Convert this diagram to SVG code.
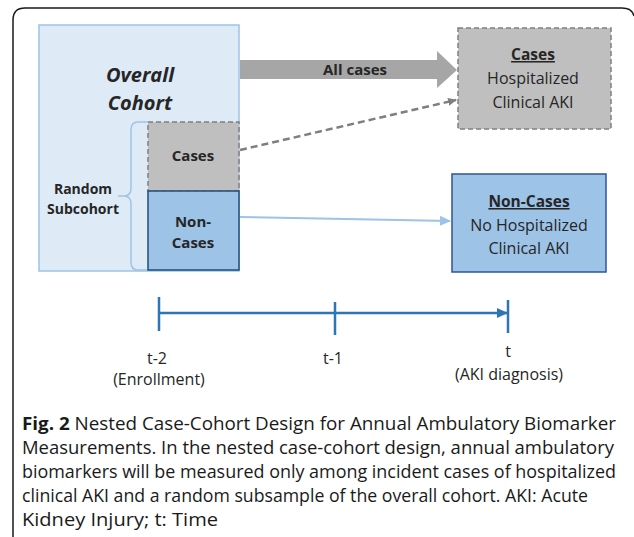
<svg xmlns="http://www.w3.org/2000/svg" width="634" height="537" viewBox="0 0 634 537">
<defs>
<style>
.t{font-family:"Open Sans","Noto Sans",sans-serif;fill:#262626;text-anchor:middle}
.b{font-weight:bold}
.cap{font-family:"Open Sans","Noto Sans",sans-serif;font-size:17.5px;fill:#1a1a1a;font-weight:400}
</style>
<marker id="ag" markerWidth="10" markerHeight="10" refX="8" refY="5" orient="auto" markerUnits="userSpaceOnUse"><path d="M0,1 L9,5 L0,9 Z" fill="#7f7f7f"/></marker>
<marker id="ab" markerWidth="12" markerHeight="12" refX="10" refY="6" orient="auto" markerUnits="userSpaceOnUse"><path d="M0,1 L11,6 L0,11 Z" fill="#9dc3e6"/></marker>
<marker id="at" markerWidth="12" markerHeight="12" refX="10" refY="6" orient="auto" markerUnits="userSpaceOnUse"><path d="M0,1 L11,6 L0,11 Z" fill="#2e75b6"/></marker>
</defs>
<rect width="634" height="537" fill="#ffffff"/>
<path d="M13,537 L13,20 Q13,8 25,8 L622,8 Q632,8 634,16" fill="none" stroke="#1a1a1a" stroke-width="1.5"/>

<g id="overall-cohort">
<rect x="39" y="25" width="200" height="246" fill="#deebf7" stroke="#9dc3e6" stroke-width="1.5"/>
<text class="t b" x="140" y="82" font-size="20" font-style="italic">Overall</text>
<text class="t b" x="140" y="110" font-size="20" font-style="italic">Cohort</text>
</g>

<g id="random-subcohort">
<path d="M148,122 L138,122 Q131,122 131,130 L131,188 Q131,196 124,196 L118,196 M124,196 Q131,196 131,204 L131,262 Q131,270 138,270 L148,270" fill="none" stroke="#9dc3e6" stroke-width="1.5"/>
<text class="t b" x="83" y="194" font-size="14">Random</text>
<text class="t b" x="83" y="214" font-size="14">Subcohort</text>
</g>

<g id="sub-cases">
<rect x="148" y="122" width="91" height="69" fill="#bfbfbf" stroke="#808080" stroke-width="1.5" stroke-dasharray="5,3"/>
<text class="t b" x="193" y="161" font-size="15">Cases</text>
</g>

<g id="sub-noncases">
<rect x="148" y="191" width="91" height="79" fill="#9dc3e6" stroke="#1f4e79" stroke-width="1.5"/>
<text class="t b" x="193" y="227" font-size="15">Non-</text>
<text class="t b" x="193" y="248" font-size="15">Cases</text>
</g>

<g id="cases">
<rect x="458" y="28" width="153" height="101" fill="#bfbfbf" stroke="#808080" stroke-width="1.5" stroke-dasharray="5,3"/>
<text class="t b" x="533" y="60" font-size="15.5" text-decoration="underline">Cases</text>
<text class="t" x="533" y="84" font-size="16">Hospitalized</text>
<text class="t" x="533" y="108" font-size="16">Clinical AKI</text>
</g>

<g id="non-cases">
<rect x="452" y="174" width="154" height="98" fill="#9dc3e6" stroke="#2f5597" stroke-width="1.5"/>
<text class="t b" x="529" y="207" font-size="15.5" text-decoration="underline">Non-Cases</text>
<text class="t" x="529" y="231" font-size="16">No Hospitalized</text>
<text class="t" x="529" y="254" font-size="16">Clinical AKI</text>
</g>

<g id="connectors">
<path d="M240,60 L437,60 L437,51 L457,70 L437,88 L437,79 L240,79 Z" fill="#a6a6a6"/>
<text class="t b" x="355" y="75" font-size="15">All cases</text>
<line x1="240" y1="150" x2="456" y2="100" stroke="#7f7f7f" stroke-width="2.5" stroke-dasharray="7,4" marker-end="url(#ag)"/>
<line x1="240" y1="217" x2="450" y2="221" stroke="#9dc3e6" stroke-width="2" marker-end="url(#ab)"/>
</g>

<g id="timeline">
<line x1="159" y1="313" x2="507" y2="313" stroke="#2e75b6" stroke-width="2.5" marker-end="url(#at)"/>
<line x1="159" y1="297" x2="159" y2="331" stroke="#2e75b6" stroke-width="2.5"/>
<line x1="335" y1="302" x2="335" y2="335" stroke="#2e75b6" stroke-width="2.5"/>
<line x1="508" y1="300" x2="508" y2="333" stroke="#2e75b6" stroke-width="2.5"/>
<text class="t" x="157" y="364" font-size="16">t-2</text>
<text class="t" x="159" y="385" font-size="16">(Enrollment)</text>
<text class="t" x="333" y="364" font-size="16">t-1</text>
<text class="t" x="508" y="357" font-size="16">t</text>
<text class="t" x="509" y="380" font-size="16">(AKI diagnosis)</text>
</g>

<g id="caption">
<text class="cap" x="22" y="430" textLength="594" lengthAdjust="spacingAndGlyphs"><tspan font-weight="bold">Fig. 2</tspan> Nested Case-Cohort Design for Annual Ambulatory Biomarker</text>
<text class="cap" x="22" y="454" textLength="592" lengthAdjust="spacingAndGlyphs">Measurements. In the nested case-cohort design, annual ambulatory</text>
<text class="cap" x="22" y="478" textLength="594" lengthAdjust="spacingAndGlyphs">biomarkers will be measured only among incident cases of hospitalized</text>
<text class="cap" x="22" y="502" textLength="566" lengthAdjust="spacingAndGlyphs">clinical AKI and a random subsample of the overall cohort. AKI: Acute</text>
<text class="cap" x="22" y="526" textLength="196" lengthAdjust="spacingAndGlyphs">Kidney Injury; t: Time</text>
</g>
</svg>
